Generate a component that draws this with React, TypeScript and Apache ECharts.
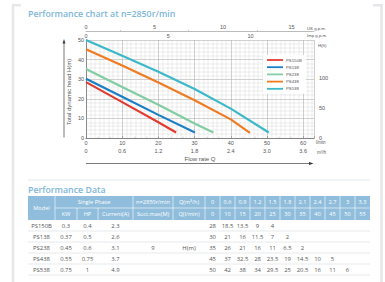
import React, { useEffect, useRef } from "react";
import * as echarts from "echarts";

// ---- chart data (flow l/min, head m) ----
const seriesNames = ["PS150B", "PS138", "PS238", "PS438", "PS538"];
const seriesColors = ["#e23b30", "#1b7fc6", "#82cda3", "#f07b23", "#3cb8c9"];
const ps150bCurve = [[0, 28.5], [10, 18.3], [20, 8.0], [24.9, 2.8]];
const ps138Curve = [[0, 30.2], [10, 21], [20, 11.8], [30.1, 2.8]];
const ps238Curve = [[0, 35.2], [10, 26], [20, 17], [30, 7.4], [35.2, 2.8]];
const ps438Curve = [[0, 45.3], [10, 37], [20, 28.3], [30, 19.3], [40, 9.5], [45.3, 2.6]];
const ps538Curve = [[0, 50], [10, 42], [20, 33.8], [30, 25], [40, 15], [50.5, 2.8]];
const curves = [ps150bCurve, ps138Curve, ps238Curve, ps438Curve, ps538Curve];
const ftLabels = [0, 50, 100];

// ---- table data ----
const tableModels = ["PS150B", "PS138", "PS238", "PS438", "PS538"];
const tableKW = ["0.3", "0.37", "0.45", "0.55", "0.75"];
const tableHP = ["0.4", "0.5", "0.6", "0.75", "1"];
const tableCurrent = ["2.3", "2.6", "3.1", "3.7", "4.9"];
const tableSuction = "9";
const tableQm3h = ["0", "0.6", "0.9", "1.2", "1.5", "1.8", "2.1", "2.4", "2.7", "3", "3.3"];
const tableQlmin = ["0", "10", "15", "20", "25", "30", "35", "40", "45", "50", "55"];
const tableHeads = [
  ["28", "18.5", "13.5", "9", "4"],
  ["30", "21", "16", "11.5", "7", "2"],
  ["35", "26", "21", "16", "11", "6.5", "2"],
  ["45", "37", "32.5", "28", "23.5", "19", "14.5", "10", "5"],
  ["50", "42", "38", "34", "29.5", "25", "20.5", "16", "11", "6"],
];

const LMIN_MAX = 63;
const M_MAX = 50;

export default function App() {
  const ref = useRef<HTMLDivElement>(null);
  useEffect(() => {
    document.body.style.margin = "0";
    const chart = echarts.init(ref.current!, null, { renderer: "svg" });
    const axisFont = "Liberation Sans";
    const tblFont = "Open Sans";
    const titleColor = "#7db6d7";
    const headBg = "#8fbddb";
    const txt = "#555";
    const g: any[] = [];
    // frame
    const frameC = "#e5e7ea";
    g.push({ type: "line", shape: { x1: 13, y1: 5, x2: 13, y2: 282 }, style: { stroke: frameC, lineWidth: 2.5 } });
    g.push({ type: "line", shape: { x1: 12, y1: 5.2, x2: 21, y2: 5.2 }, style: { stroke: frameC, lineWidth: 2.5 } });
    g.push({ type: "line", shape: { x1: 381.5, y1: 5, x2: 381.5, y2: 282 }, style: { stroke: frameC, lineWidth: 2.5 } });
    g.push({ type: "line", shape: { x1: 373, y1: 5.2, x2: 383, y2: 5.2 }, style: { stroke: frameC, lineWidth: 2.5 } });
    const text = (t: string, x: number, y: number, o: any = {}) =>
      g.push({
        type: "text", x, y, rotation: o.rotation || 0,
        style: {
          text: t, fill: o.fill || txt,
          font: `${o.weight || "normal"} ${o.size || 5.5}px "${o.family || axisFont}"`,
          textAlign: o.align || "center", textVerticalAlign: "middle",
        },
      });
    text("Performance chart at n=2850r/min", 28, 13.5, { fill: titleColor, size: 8.8, weight: 600, family: "Open Sans", align: "left" });
    text("US g.p.m.", 307, 28, { size: 4.3, align: "left" });
    text("Imp g.p.m.", 307, 35.5, { size: 4.3, align: "left" });
    text("H(ft)", 318, 45, { size: 4.3, align: "left" });
    text("l/min", 316, 142, { size: 4.5, align: "left" });
    text("m³/h", 317, 152, { size: 4.5, align: "left" });
    text("Total dynamic head H(m)", 69, 92, { size: 6, rotation: Math.PI / 2 });
    text("Flow rate Q", 200, 159, { size: 6 });
    // arrows
    g.push({ type: "line", shape: { x1: 64, y1: 137.5, x2: 64, y2: 42 }, style: { stroke: "#444", lineWidth: 0.7 } });
    g.push({ type: "polygon", shape: { points: [[62.6, 43.5], [65.4, 43.5], [64, 39]] }, style: { fill: "#333" } });
    g.push({ type: "line", shape: { x1: 86, y1: 163.5, x2: 310, y2: 163.5 }, style: { stroke: "#444", lineWidth: 0.7 } });
    g.push({ type: "polygon", shape: { points: [[309, 162], [309, 165], [313.5, 163.5]] }, style: { fill: "#333" } });
    // separator + table title
    g.push({ type: "line", shape: { x1: 28, y1: 180, x2: 370, y2: 180 }, style: { stroke: "#dfeaf2", lineWidth: 1 } });
    text("Performance Data", 28, 189.5, { fill: titleColor, size: 8.8, weight: 600, family: "Open Sans", align: "left" });

    // table
    const colX = [28, 55, 77, 98, 133, 173, 205];
    const valW = 15;
    const tRight = 205 + valW * tableQm3h.length;
    const hy0 = 196, hy1 = 208, hy2 = 220;
    const rowH = 11;
    g.push({ type: "rect", shape: { x: 28, y: hy0, width: tRight - 28, height: hy2 - hy0 }, style: { fill: headBg } });
    const wl = (x1: number, y1: number, x2: number, y2: number) =>
      g.push({ type: "line", shape: { x1, y1, x2, y2 }, style: { stroke: "#ffffff", lineWidth: 0.6 } });
    wl(55, hy1, tRight, hy1);
    [colX[1], colX[4], colX[5], colX[6]].forEach((x) => wl(x, hy0, x, hy2));
    [colX[2], colX[3]].forEach((x) => wl(x, hy1, x, hy2));
    for (let j = 1; j < tableQm3h.length; j++) wl(205 + valW * j, hy0, 205 + valW * j, hy2);
    const ht = (t: string, x: number, y: number) => text(t, x, y, { fill: "#fff", size: 5.6, family: tblFont });
    ht("Model", 41.5, 208);
    ht("Single Phase", 94, 202);
    ht("KW", 66, 214);
    ht("HP", 87.5, 214);
    ht("Current(A)", 115.5, 214);
    ht("n=2850r/min", 153, 202);
    ht("Suct.max(M)", 153, 214);
    ht("Q(m³/h)", 189, 202);
    ht("Q(l/min)", 189, 214);
    tableQm3h.forEach((v, j) => ht(v, 205 + valW * (j + 0.5), 202));
    tableQlmin.forEach((v, j) => ht(v, 205 + valW * (j + 0.5), 214));
    for (let i = 0; i < tableModels.length; i++) {
      const y = hy2 + rowH * (i + 1);
      g.push({ type: "line", shape: { x1: 28, y1: y, x2: tRight, y2: y }, style: { stroke: "#dcdfe2", lineWidth: 0.7 } });
      const cy = hy2 + rowH * (i + 0.5);
      const dt = (t: string, x: number) => text(t, x, cy, { fill: "#555", size: 5.9, family: tblFont });
      dt(tableModels[i], 41.5);
      dt(tableKW[i], 66);
      dt(tableHP[i], 87.5);
      dt(tableCurrent[i], 115.5);
      tableHeads[i].forEach((v, j) => dt(v, 205 + valW * (j + 0.5)));
    }
    text(tableSuction, 153, hy2 + rowH * 2.5, { fill: "#555", size: 5.9, family: tblFont });
    text("H(m)", 189, hy2 + rowH * 2.5, { fill: "#555", size: 5.9, family: tblFont });

    const gridMinor = "#d2d2d2";
    const gridMajor = "#b0b0b0";
    const option: any = {
      animation: false,
      backgroundColor: "#fff",
      textStyle: { fontFamily: axisFont },
      grid: { left: 86, top: 40, width: 228, height: 98 },
      legend: {
        data: seriesNames,
        orient: "vertical",
        left: 263,
        top: 55,
        icon: "rect",
        itemWidth: 16,
        itemHeight: 1.8,
        itemGap: 3.2,
        padding: [3, 4, 3, 4],
        backgroundColor: "#fff",
        textStyle: { fontSize: 4.3, color: "#555", padding: [0, 0, 0, -2] },
      },
      xAxis: [
        {
          type: "value", min: 0, max: LMIN_MAX, interval: 10, position: "bottom",
          axisLine: { show: true, lineStyle: { color: "#888", width: 0.8 } },
          axisTick: { show: false },
          axisLabel: { fontSize: 5.5, color: txt, margin: 1.5, showMaxLabel: false },
          splitLine: { show: true, lineStyle: { color: gridMajor, width: 0.6 } },
          minorTick: { show: false, splitNumber: 8 },
          minorSplitLine: { show: true, lineStyle: { color: gridMinor, width: 0.4 } },
        },
        {
          type: "value", min: 0, max: LMIN_MAX * 0.06, interval: 0.6, position: "bottom", offset: 8,
          axisLine: { show: true, lineStyle: { color: "#777", width: 0.6 } },
          axisTick: { show: true, inside: true, length: 2, lineStyle: { color: "#777", width: 0.5 } },
          minorTick: { show: true, splitNumber: 3, length: 1.2, lineStyle: { color: "#777", width: 0.4 } },
          axisLabel: { fontSize: 5.5, color: txt, margin: 2, showMaxLabel: false, formatter: (v: number) => (v === 0 ? "0" : v.toFixed(1)) },
          splitLine: { show: false },
        },
        {
          type: "value", min: 0, max: LMIN_MAX / 3.7854, interval: 5, position: "top", offset: 9,
          axisLine: { show: true, lineStyle: { color: "#aaa", width: 0.8 } },
          axisTick: { show: false },
          minorTick: { show: true, splitNumber: 2, length: 1, lineStyle: { color: "#888", width: 0.5 } },
          axisLabel: { fontSize: 5.5, color: txt, margin: 1.5, showMaxLabel: false },
          splitLine: { show: false },
        },
        {
          type: "value", min: 0, max: LMIN_MAX / 4.54609, interval: 5, position: "top", offset: 9,
          axisLine: { show: false },
          axisTick: { show: false },
          axisLabel: { fontSize: 5.5, color: txt, margin: 1.5, inside: true, showMaxLabel: false },
          splitLine: { show: false },
        },
      ],
      yAxis: [
        {
          type: "value", min: 0, max: M_MAX, interval: 10, position: "left",
          axisLine: { show: true, lineStyle: { color: "#888", width: 0.8 } },
          axisTick: { show: false },
          axisLabel: { fontSize: 5.5, color: txt, margin: 2 },
          splitLine: { show: true, lineStyle: { color: gridMajor, width: 0.6 } },
          minorTick: { show: false, splitNumber: 5 },
          minorSplitLine: { show: true, lineStyle: { color: gridMinor, width: 0.4 } },
        },
        {
          type: "value", min: 0, max: M_MAX * 3.28084, interval: 50, position: "right",
          axisLine: { show: true, lineStyle: { color: "#888", width: 0.8 } },
          axisTick: { show: false },
          axisLabel: { fontSize: 5.5, color: txt, margin: 5, showMaxLabel: false, formatter: (v: number) => (ftLabels.includes(v) ? String(v) : "") },
          splitLine: { show: false },
        },
      ],
      series: curves.map((d, i) => ({
        name: seriesNames[i],
        type: "line",
        xAxisIndex: 0,
        yAxisIndex: 0,
        data: d,
        symbol: "none",
        lineStyle: { color: seriesColors[i], width: 2.2 },
        itemStyle: { color: seriesColors[i] },
      })),
      graphic: { elements: g },
    };
    chart.setOption(option);
    return () => chart.dispose();
  }, []);
  return <div ref={ref} style={{ position: "absolute", left: 0, top: 0, width: 385, height: 282 }} />;
}
